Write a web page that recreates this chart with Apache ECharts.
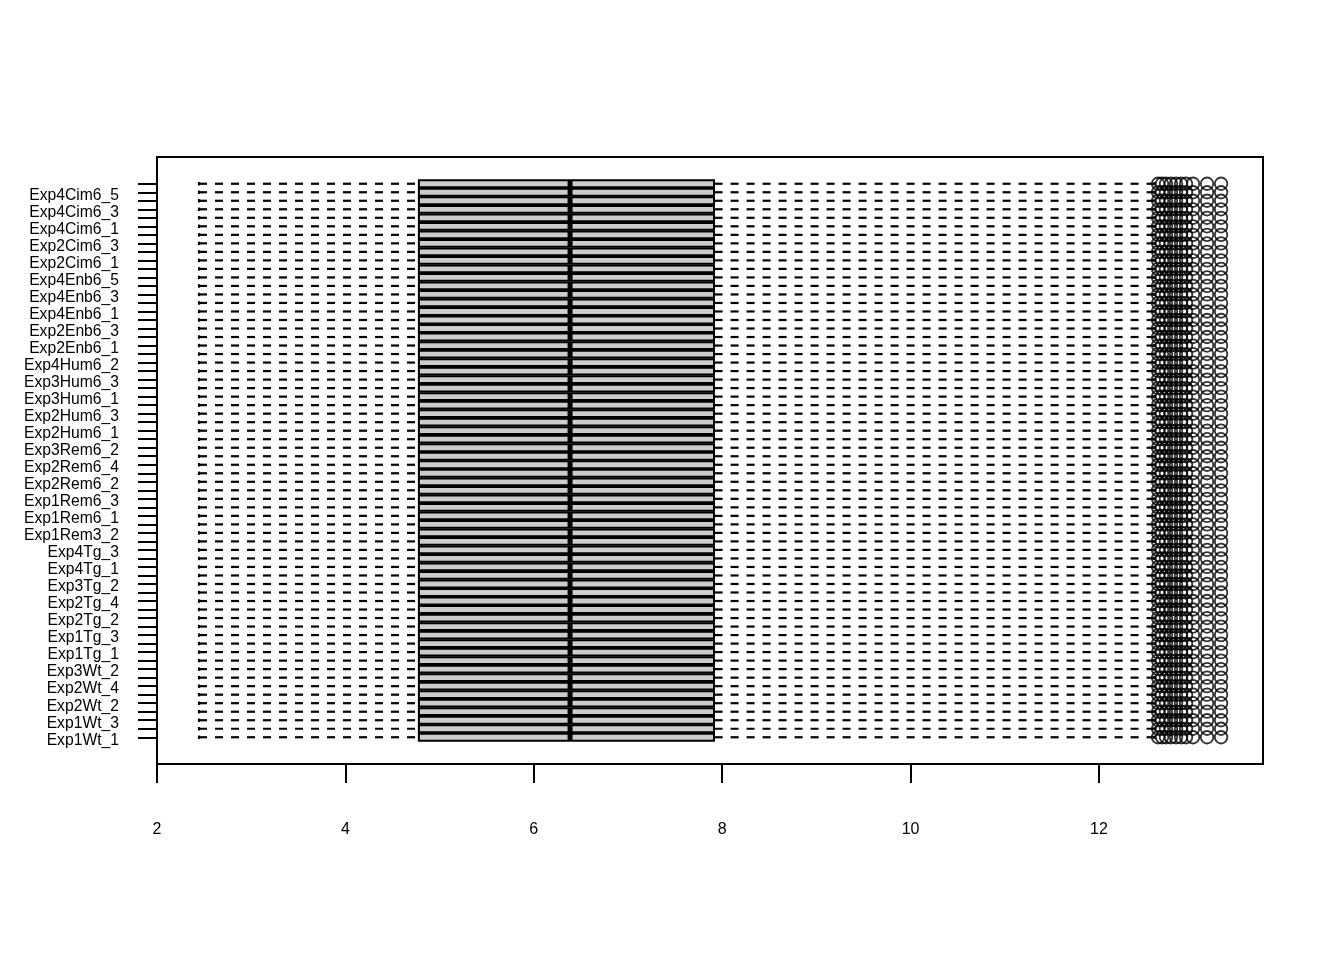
<!DOCTYPE html>
<html><head><meta charset="utf-8">
<script src="https://cdn.jsdelivr.net/npm/echarts@6/dist/echarts.min.js"></script>
<style>html,body{margin:0;padding:0;background:#fff}#c{width:1344px;height:960px}</style>
</head><body><div id="c"></div>
<script>
// Samples, bottom (1) to top (66)
const samples = [
  'Exp1Wt_1','Exp1Wt_2','Exp1Wt_3','Exp2Wt_1','Exp2Wt_2','Exp2Wt_3','Exp2Wt_4','Exp3Wt_1','Exp3Wt_2','Exp3Wt_3',
  'Exp1Tg_1','Exp1Tg_2','Exp1Tg_3','Exp2Tg_1','Exp2Tg_2','Exp2Tg_3','Exp2Tg_4','Exp3Tg_1','Exp3Tg_2','Exp3Tg_3',
  'Exp4Tg_1','Exp4Tg_2','Exp4Tg_3','Exp1Rem3_1','Exp1Rem3_2','Exp1Rem3_3','Exp1Rem6_1','Exp1Rem6_2','Exp1Rem6_3','Exp2Rem6_1',
  'Exp2Rem6_2','Exp2Rem6_3','Exp2Rem6_4','Exp3Rem6_1','Exp3Rem6_2','Exp3Rem6_3','Exp2Hum6_1','Exp2Hum6_2','Exp2Hum6_3','Exp2Hum6_4',
  'Exp3Hum6_1','Exp3Hum6_2','Exp3Hum6_3','Exp4Hum6_1','Exp4Hum6_2','Exp4Hum6_3','Exp2Enb6_1','Exp2Enb6_2','Exp2Enb6_3','Exp2Enb6_4',
  'Exp4Enb6_1','Exp4Enb6_2','Exp4Enb6_3','Exp4Enb6_4','Exp4Enb6_5','Exp4Enb6_6','Exp2Cim6_1','Exp2Cim6_2','Exp2Cim6_3','Exp2Cim6_4',
  'Exp4Cim6_1','Exp4Cim6_2','Exp4Cim6_3','Exp4Cim6_4','Exp4Cim6_5','Exp4Cim6_6'
];
// Box statistics per sample (quantile-normalised, all identical)
const whiskerLow = [
  2.446,2.446,2.446,2.446,2.446,2.446,2.446,2.446,2.446,2.446,2.446,
  2.446,2.446,2.446,2.446,2.446,2.446,2.446,2.446,2.446,2.446,2.446,
  2.446,2.446,2.446,2.446,2.446,2.446,2.446,2.446,2.446,2.446,2.446,
  2.446,2.446,2.446,2.446,2.446,2.446,2.446,2.446,2.446,2.446,2.446,
  2.446,2.446,2.446,2.446,2.446,2.446,2.446,2.446,2.446,2.446,2.446,
  2.446,2.446,2.446,2.446,2.446,2.446,2.446,2.446,2.446,2.446,2.446
];
const q1 = [
  4.78,4.78,4.78,4.78,4.78,4.78,4.78,4.78,4.78,4.78,4.78,
  4.78,4.78,4.78,4.78,4.78,4.78,4.78,4.78,4.78,4.78,4.78,
  4.78,4.78,4.78,4.78,4.78,4.78,4.78,4.78,4.78,4.78,4.78,
  4.78,4.78,4.78,4.78,4.78,4.78,4.78,4.78,4.78,4.78,4.78,
  4.78,4.78,4.78,4.78,4.78,4.78,4.78,4.78,4.78,4.78,4.78,
  4.78,4.78,4.78,4.78,4.78,4.78,4.78,4.78,4.78,4.78,4.78
];
const median = [
  6.385,6.385,6.385,6.385,6.385,6.385,6.385,6.385,6.385,6.385,6.385,
  6.385,6.385,6.385,6.385,6.385,6.385,6.385,6.385,6.385,6.385,6.385,
  6.385,6.385,6.385,6.385,6.385,6.385,6.385,6.385,6.385,6.385,6.385,
  6.385,6.385,6.385,6.385,6.385,6.385,6.385,6.385,6.385,6.385,6.385,
  6.385,6.385,6.385,6.385,6.385,6.385,6.385,6.385,6.385,6.385,6.385,
  6.385,6.385,6.385,6.385,6.385,6.385,6.385,6.385,6.385,6.385,6.385
];
const q3 = [
  7.913,7.913,7.913,7.913,7.913,7.913,7.913,7.913,7.913,7.913,7.913,
  7.913,7.913,7.913,7.913,7.913,7.913,7.913,7.913,7.913,7.913,7.913,
  7.913,7.913,7.913,7.913,7.913,7.913,7.913,7.913,7.913,7.913,7.913,
  7.913,7.913,7.913,7.913,7.913,7.913,7.913,7.913,7.913,7.913,7.913,
  7.913,7.913,7.913,7.913,7.913,7.913,7.913,7.913,7.913,7.913,7.913,
  7.913,7.913,7.913,7.913,7.913,7.913,7.913,7.913,7.913,7.913,7.913
];
const whiskerHigh = [
  12.59,12.59,12.59,12.59,12.59,12.59,12.59,12.59,12.59,12.59,12.59,
  12.59,12.59,12.59,12.59,12.59,12.59,12.59,12.59,12.59,12.59,12.59,
  12.59,12.59,12.59,12.59,12.59,12.59,12.59,12.59,12.59,12.59,12.59,
  12.59,12.59,12.59,12.59,12.59,12.59,12.59,12.59,12.59,12.59,12.59,
  12.59,12.59,12.59,12.59,12.59,12.59,12.59,12.59,12.59,12.59,12.59,
  12.59,12.59,12.59,12.59,12.59,12.59,12.59,12.59,12.59,12.59,12.59
];
// Outlier values (same for every sample)
const outlierValues = [12.627, 12.669, 12.711, 12.764, 12.818, 12.871, 12.924, 12.998, 13.147, 13.296];
const xTickValues = [2, 4, 6, 8, 10, 12];

const boxData = samples.map((s, i) => [i + 1, whiskerLow[i], q1[i], median[i], q3[i], whiskerHigh[i]]);
const outlierData = [];
samples.forEach((s, i) => outlierValues.forEach(v => outlierData.push([v, i + 1])));
const yTickValues = samples.map((s, i) => i + 1);
const yLabelValues = yTickValues.filter(v => v % 2 === 1);

const FONT = 'Liberation Sans, Arial, sans-serif';
const chart = echarts.init(document.getElementById('c'), null, {renderer: 'canvas'});
chart.setOption({
  animation: false,
  backgroundColor: '#fff',
  grid: {left: 157, right: 81, top: 157, bottom: 196, show: true, borderColor: '#000', borderWidth: 2, backgroundColor: 'transparent'},
  xAxis: {
    type: 'value', min: 2, max: 13.741,
    axisLine: {show: false, onZero: false},
    splitLine: {show: false},
    axisTick: {show: true, inside: false, length: 19, customValues: xTickValues, lineStyle: {color: '#000', width: 2}},
    axisLabel: {customValues: xTickValues, margin: 58, color: '#000', fontSize: 16, fontFamily: FONT}
  },
  yAxis: {
    type: 'value', min: -2.14, max: 69.14,
    axisLine: {show: false, onZero: false},
    splitLine: {show: false},
    axisTick: {show: true, inside: false, length: 19, customValues: yTickValues, lineStyle: {color: '#000', width: 2}},
    axisLabel: {customValues: yLabelValues, margin: 38, color: '#000', fontSize: 15.7, fontFamily: FONT,
      verticalAlign: 'top', lineHeight: 6,
      formatter: v => samples[Math.round(v) - 1] || ''}
  },
  series: [
    {
      type: 'custom',
      data: boxData,
      encode: {x: [1, 2, 3, 4, 5], y: 0},
      renderItem: function (params, api) {
        const y = api.value(0);
        const lo = api.coord([api.value(1), y]);
        const a = api.coord([api.value(2), y]);
        const m = api.coord([api.value(3), y]);
        const b = api.coord([api.value(4), y]);
        const hi = api.coord([api.value(5), y]);
        const h = api.size([0, 0.8])[1];
        const cy = lo[1];
        const dash = {stroke: '#000', lineWidth: 2.2, lineDash: [8, 8], fill: null};
        const solid = {stroke: '#000', lineWidth: 2.2, fill: null};
        return {
          type: 'group',
          children: [
            {type: 'line', shape: {x1: lo[0], y1: cy, x2: a[0], y2: cy}, style: dash},
            {type: 'line', shape: {x1: hi[0], y1: cy, x2: b[0], y2: cy}, style: dash},
            {type: 'line', shape: {x1: lo[0], y1: cy - h / 4, x2: lo[0], y2: cy + h / 4}, style: solid},
            {type: 'line', shape: {x1: hi[0], y1: cy - h / 4, x2: hi[0], y2: cy + h / 4}, style: solid},
            {type: 'rect', shape: {x: a[0], y: cy - h / 2, width: b[0] - a[0], height: h}, style: {fill: '#cccccc', stroke: '#000', lineWidth: 2}},
            {type: 'line', shape: {x1: m[0], y1: cy - h / 2, x2: m[0], y2: cy + h / 2}, style: {stroke: '#000', lineWidth: 5, fill: null}}
          ]
        };
      }
    },
    {
      type: 'scatter',
      data: outlierData,
      symbol: 'circle',
      symbolSize: 12.5,
      itemStyle: {color: 'rgba(0,0,0,0)', borderColor: '#000', borderWidth: 1.8},
      emphasis: {disabled: true}
    }
  ]
});
</script>
</body></html>
